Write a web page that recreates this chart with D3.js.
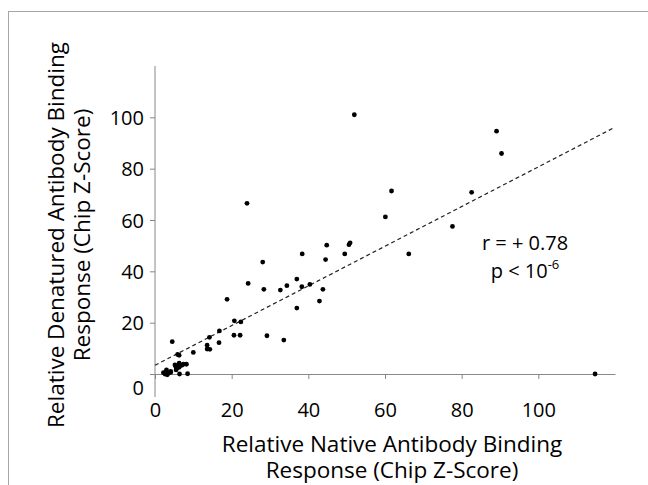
<!DOCTYPE html>
<html>
<head>
<meta charset="utf-8">
<script src="https://cdn.jsdelivr.net/npm/d3@7"></script>
<style>
  body { margin: 0; background: #fff; }
  svg text { font-family: "Open Sans", "Noto Sans", sans-serif; fill: #000; }
</style>
</head>
<body>
<svg id="chart" width="648" height="485"></svg>
<script>
// Native (x) vs denatured (y) antibody binding, chip Z-scores
const nativeScores = [
  2.2, 2.6, 2.9, 3.2, 3.5, 4.1, 3.0, 4.1, 5.5, 5.7, 5.5, 5.2, 5.9, 6.3, 6.3, 7.0, 7.4, 8.2,
  6.4, 8.5, 5.9, 6.3, 4.5, 10.0, 13.6, 13.6, 14.3, 14.2, 16.7, 16.8, 18.8, 20.7, 22.4,
  20.6, 22.2, 24.0, 24.3, 28.1, 28.4, 29.2, 32.7, 33.6, 34.4, 37.0, 37.0, 38.4, 38.3,
  40.4, 42.9, 43.8, 44.5, 44.8, 49.5, 50.9, 50.6, 52.0, 60.1, 61.7, 66.2, 77.6, 82.6,
  89.1, 90.4, 114.8
];
const denaturedScores = [
  0.5, 0.0, 0.9, -0.3, 0.3, 0.6, 1.6, 1.0, 1.6, 2.2, 2.6, 3.5, 3.1, 2.6, 4.2, 3.4, 3.8, 3.8,
  0.0, 0.1, 7.6, 7.3, 12.6, 8.4, 11.2, 9.7, 9.6, 14.3, 12.2, 16.8, 29.1, 20.7, 20.3,
  15.1, 15.1, 66.5, 35.3, 43.6, 33.0, 14.9, 32.7, 13.2, 34.4, 37.0, 25.7, 46.8, 34.0,
  34.9, 28.4, 33.0, 44.6, 50.2, 46.8, 51.1, 50.4, 101.0, 61.2, 71.3, 46.8, 57.5, 70.8,
  94.6, 85.9, 0.0
];

const xTicks = [0, 20, 40, 60, 80, 100];
const yTicks = [0, 20, 40, 60, 80, 100];
const axisMax = 120;

// linear fit shown as dashed line
const fitIntercept = 3.4;
const fitSlope = 0.773;

const xTitleLines = ['Relative Native Antibody Binding', 'Response (Chip Z-Score)'];
const yTitleLines = ['Relative Denatured Antibody Binding', 'Response (Chip Z-Score)'];

const points = nativeScores.map((x, i) => ({ x: x, y: denaturedScores[i] }));

const svg = d3.select('#chart');
const axisColor = '#888';

// frame around the figure
svg.append('rect')
  .attr('x', 8.5).attr('y', 11.5)
  .attr('width', 700).attr('height', 500)
  .attr('fill', 'none')
  .attr('stroke', '#a6a6a6');

const x = d3.scaleLinear().domain([0, axisMax]).range([155, 615]);
const y = d3.scaleLinear().domain([0, axisMax]).range([374, 66]);

// y axis
const yAxis = svg.append('g')
  .attr('transform', `translate(${x(0)},0)`)
  .call(d3.axisLeft(y).tickValues(yTicks).tickSize(5).tickSizeOuter(0).tickPadding(6));
yAxis.select('.domain').remove();
yAxis.append('line')
  .attr('x1', 0).attr('x2', 0)
  .attr('y1', y(axisMax)).attr('y2', y(-9))
  .attr('stroke', axisColor);
yAxis.selectAll('.tick line').attr('stroke', axisColor);
yAxis.selectAll('.tick text')
  .style('font-size', '20px')
  .attr('dy', d => d === 0 ? '1.0em' : '0.35em');

// x axis
const xAxis = svg.append('g')
  .attr('transform', `translate(0,${y(0)})`)
  .call(d3.axisBottom(x).tickValues(xTicks).tickSize(5).tickSizeOuter(0).tickPadding(38));
xAxis.select('.domain').attr('stroke', axisColor);
xAxis.selectAll('.tick line').attr('stroke', axisColor);
xAxis.selectAll('.tick text')
  .style('font-size', '20px')
  .attr('dy', '0');

// regression line
svg.append('line')
  .attr('x1', x(0)).attr('y1', y(fitIntercept))
  .attr('x2', x(axisMax)).attr('y2', y(fitIntercept + fitSlope * axisMax))
  .attr('stroke', '#222')
  .attr('stroke-width', 1.2)
  .attr('stroke-dasharray', '4,3');

// points
svg.selectAll('.dot')
  .data(points)
  .enter().append('circle')
  .attr('class', 'dot')
  .attr('cx', d => x(d.x))
  .attr('cy', d => y(d.y))
  .attr('r', 2.4)
  .attr('fill', '#000');

// axis titles
xTitleLines.forEach((t, i) => {
  svg.append('text')
    .attr('x', 392).attr('y', 452 + i * 26)
    .attr('text-anchor', 'middle')
    .style('font-size', '22.5px')
    .text(t);
});

yTitleLines.forEach((t, i) => {
  svg.append('text')
    .attr('transform', `translate(${64 + i * 26},235) rotate(-90)`)
    .attr('text-anchor', 'middle')
    .style('font-size', '22.5px')
    .text(t);
});

// correlation annotation
svg.append('text')
  .attr('x', 525).attr('y', 250)
  .attr('text-anchor', 'middle')
  .style('font-size', '20px')
  .text('r = + 0.78');
const pText = svg.append('text')
  .attr('x', 525).attr('y', 278)
  .attr('text-anchor', 'middle')
  .style('font-size', '20px');
pText.append('tspan').text('p < 10');
pText.append('tspan')
  .attr('dy', -9)
  .style('font-size', '13px')
  .text('-6');
</script>
</body>
</html>
